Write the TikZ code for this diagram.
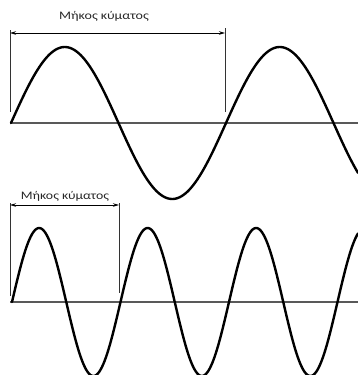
\documentclass[tikz,border=0pt]{standalone}
\usepackage{fontspec}
\usepackage{graphicx}
\setmainfont{Carlito}
\usetikzlibrary{arrows.meta}
\begin{document}
\begin{tikzpicture}[x=1pt,y=-1pt,
  wave/.style={line width=2.4pt,line join=round,line cap=round},
  axis/.style={line width=1.3pt,draw=black!65},
  tick/.style={line width=0.9pt,draw=black!80},
  dim/.style={line width=0.9pt,{Stealth[length=6pt,width=3.5pt]}-{Stealth[length=6pt,width=3.5pt]}},
  lbl/.style={font=\fontsize{11.5}{13}\selectfont,text=black!85,inner sep=0pt}]
\useasboundingbox (0,0) rectangle (358,375);
\clip (0,0) rectangle (358,375);
% top
\coordinate (ta0) at (10,123);
\coordinate (ta1) at (358,123);
\draw[axis] (ta0) -- (ta1);
\coordinate (tl0) at (10,30);
\coordinate (tl1) at (10,112);
\coordinate (tr0) at (225,28);
\coordinate (tr1) at (225,112);
\draw[tick] (tl0) -- (tl1);
\draw[tick] (tr0) -- (tr1);
\coordinate (td0) at (10,33);
\coordinate (td1) at (225,33);
\draw[dim] (td0) -- (td1);
\node[lbl] (tlab) at (104,16) {\scalebox{1.22}[1]{Μήκος κύματος}};
\draw[wave] plot[domain=11:358,samples=200,smooth] (\x,{123-76*sin((\x-11)/215*360)});
% bottom
\coordinate (ba0) at (10,302);
\coordinate (ba1) at (358,302);
\draw[axis] (ba0) -- (ba1);
\coordinate (bl0) at (10,203);
\coordinate (bl1) at (10,296);
\coordinate (br0) at (119,203);
\coordinate (br1) at (119,293);
\draw[tick] (bl0) -- (bl1);
\draw[tick] (br0) -- (br1);
\coordinate (bd0) at (10,205);
\coordinate (bd1) at (119,205);
\draw[dim] (bd0) -- (bd1);
\node[lbl] (blab) at (65,196) {\scalebox{1.2}[1]{Μήκος κύματος}};
\draw[wave] plot[domain=12:358,samples=300,smooth] (\x,{302-74*sin((\x-12)/108.5*360)});
\end{tikzpicture}
\end{document}
